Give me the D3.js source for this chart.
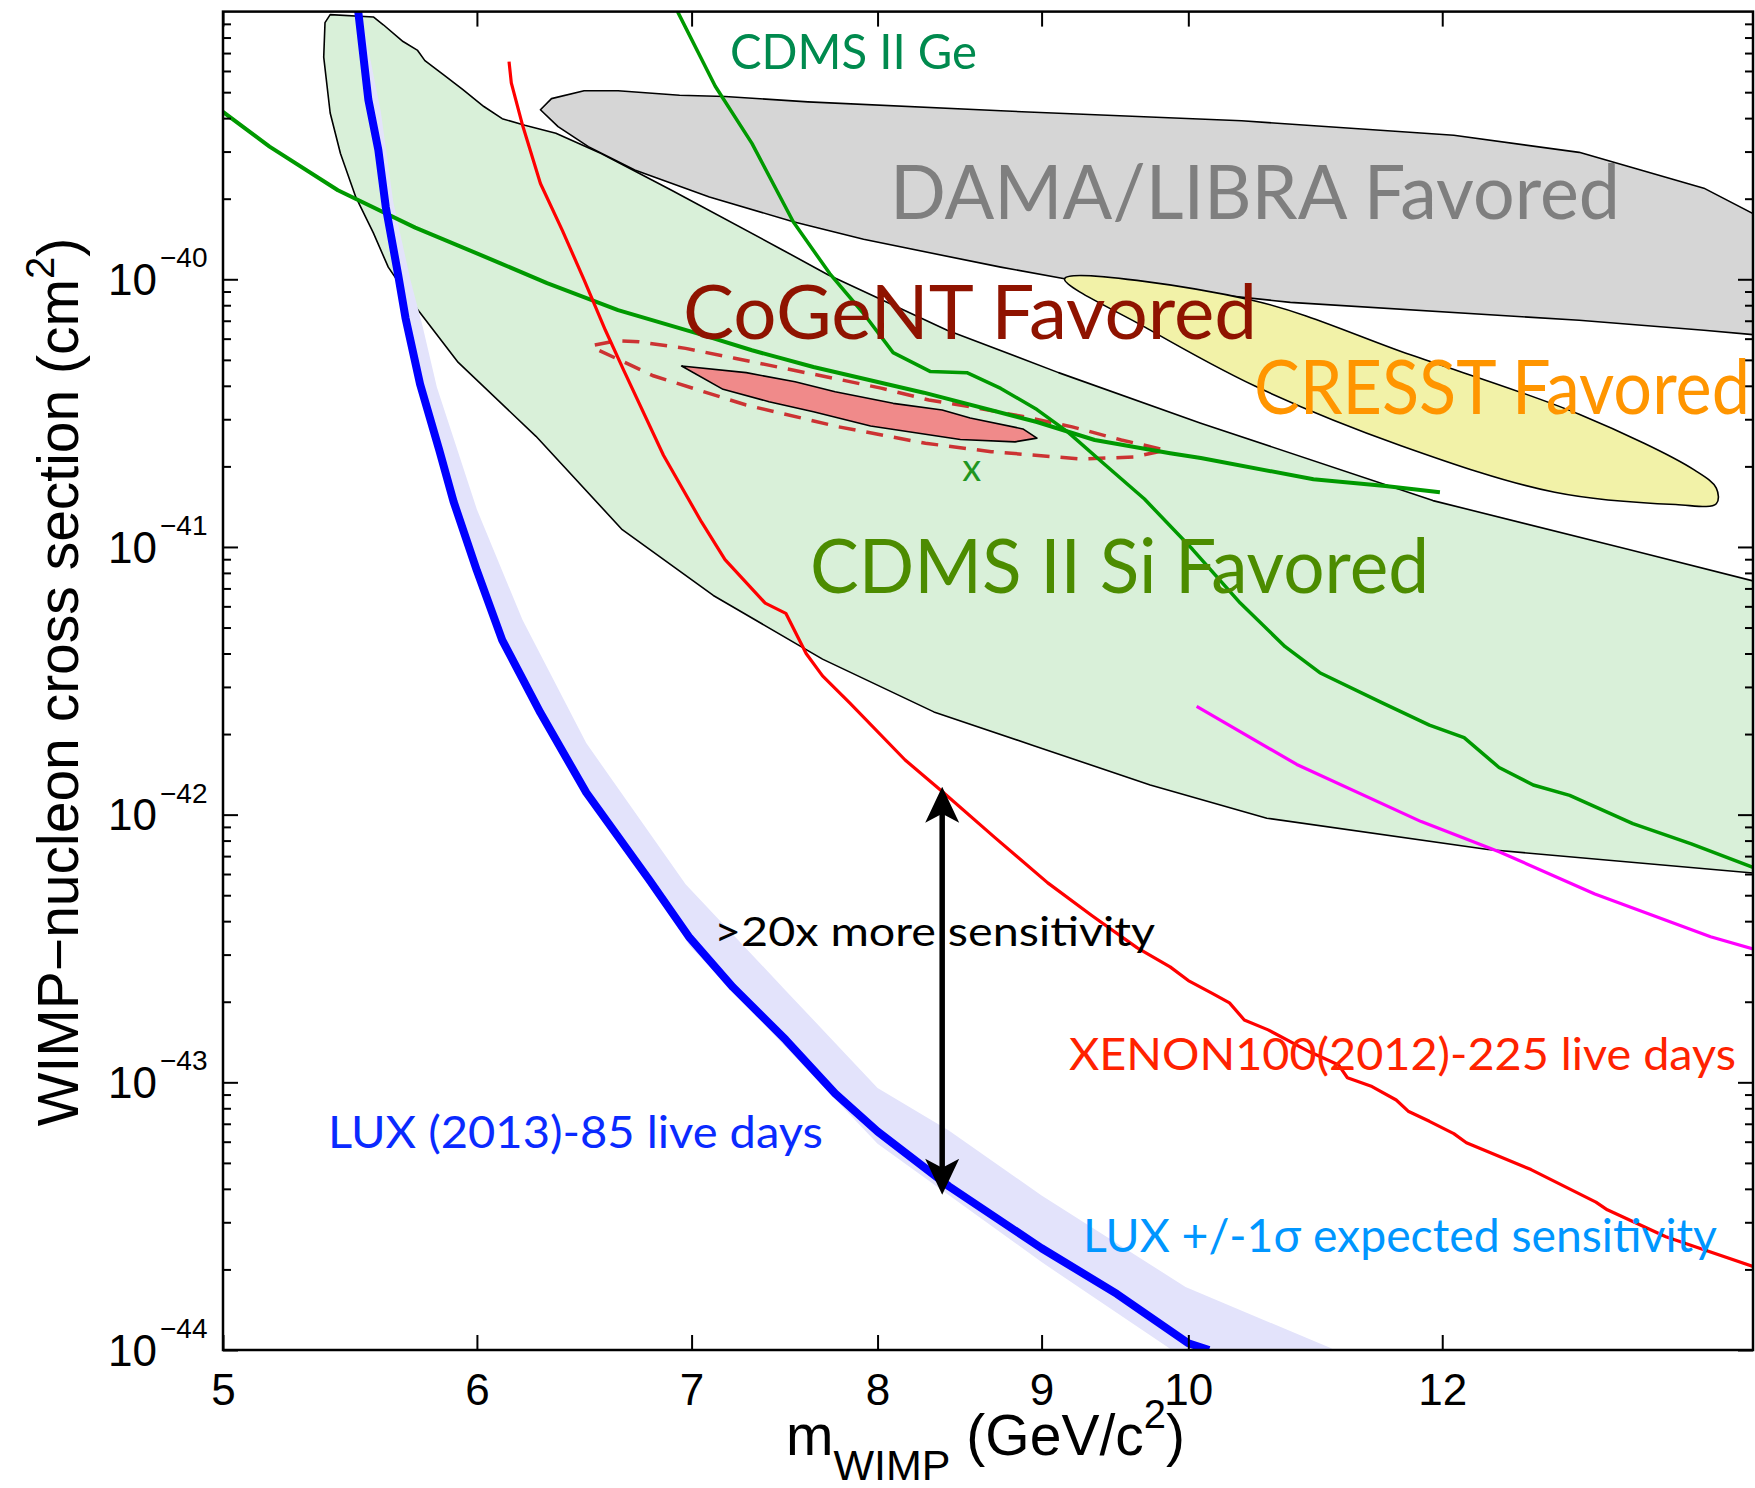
<!DOCTYPE html>
<html>
<head>
<meta charset="utf-8">
<script src="https://cdn.jsdelivr.net/npm/d3@7"></script>
<style>
    body { margin: 0; background: #ffffff; }
</style>
</head>
<body>
<svg id="chart" width="1755" height="1488"></svg>
<script>
/** Axis ticks **/
var massTicks = [5, 6, 7, 8, 9, 10, 12];
var sigmaExponents = [-44, -43, -42, -41, -40];

/** Favored regions, [mass GeV, cross section cm2] **/
var cdmsSiRegion = [[5.40,9.74e-40],[5.57,9.55e-40],[5.61,8.93e-40],[5.69,7.73e-40],[5.75,7.16e-40],[5.78,6.56e-40],
    [5.86,5.79e-40],[5.94,5.11e-40],[6.03,4.42e-40],[6.11,3.98e-40],[6.21,3.76e-40],[6.35,3.51e-40],[6.56,2.95e-40],
    [6.90,2.15e-40],[7.47,1.29e-40],[7.72,1.04e-40],[8.41,6.45e-41],[9.11,4.48e-41],[10.09,2.90e-41],[11.92,1.49e-41],
    [13.71,9.8e-42],[15.0,7.47e-42],[15.0,6.05e-43],[12.40,7.41e-43],[10.58,9.7e-43],[9.73,1.29e-42],[8.95,1.81e-42],
    [8.33,2.42e-42],[7.69,3.81e-42],[7.11,6.59e-42],[6.66,1.16e-41],[6.26,2.59e-41],[5.92,4.89e-41],[5.73,8.13e-41],
    [5.63,1.11e-40],[5.57,1.49e-40],[5.50,2.03e-40],[5.44,2.95e-40],[5.40,4.18e-40],[5.375,6.76e-40],[5.38,9.1e-40]];
var damaRegion = [[6.28,4.30e-40],[6.33,4.73e-40],[6.48,5.06e-40],[6.64,5.06e-40],[6.94,4.87e-40],[7.17,4.82e-40],
    [7.61,4.60e-40],[8.74,4.26e-40],[10.39,3.91e-40],[12.10,3.45e-40],[13.24,2.98e-40],[14.48,2.19e-40],[15.0,1.76e-40],
    [15.0,6.21e-41],[14.48,6.45e-41],[13.24,7.03e-41],[10.76,8.20e-41],[9.15,1.005e-40],[8.74,1.11e-40],[7.92,1.41e-40],
    [7.53,1.64e-40],[7.09,2.03e-40],[6.72,2.56e-40],[6.50,3.13e-40],[6.36,3.72e-40]];
var cresstRegion = [[9.15,1.005e-40],[10.46,8.37e-41],[11.73,5.22e-41],[13.24,3.13e-41],[14.38,1.94e-41],[14.61,1.66e-41],
    [14.61,1.45e-41],[14.19,1.44e-41],[13.01,1.60e-41],[11.65,2.39e-41],[10.49,3.99e-41],[9.69,6.64e-41]];
var cogentRegion = [[6.95,4.74e-41],[7.28,4.48e-41],[7.54,4.14e-41],[7.76,3.80e-41],[8.09,3.44e-41],[8.38,3.25e-41],
    [8.55,3.03e-41],[8.88,2.76e-41],[8.97,2.55e-41],[8.83,2.47e-41],[8.49,2.52e-41],[7.96,2.83e-41],[7.64,3.20e-41],
    [7.40,3.49e-41],[7.16,3.88e-41]];
var cogentDashed = [[6.53,5.68e-41],[6.63,5.89e-41],[6.74,5.84e-41],[6.97,5.52e-41],[7.22,5.07e-41],[7.48,4.65e-41],
    [7.75,4.27e-41],[8.02,3.92e-41],[8.30,3.54e-41],[8.60,3.30e-41],[8.88,3.07e-41],[9.20,2.81e-41],[9.53,2.51e-41],
    [9.84,2.30e-41],[9.62,2.17e-41],[9.26,2.13e-41],[8.68,2.27e-41],[8.28,2.44e-41],[7.78,2.81e-41],[7.28,3.39e-41],
    [6.81,4.36e-41],[6.53,5.52e-41]];
var cogentBestFit = [[8.56,1.94e-41]];

/** Exclusion limits **/
var luxLimit = [[5.51,1.0e-39],[5.55,4.69e-40],[5.59,3.04e-40],[5.62,1.86e-40],[5.67,1.04e-40],[5.70,7.18e-41],
    [5.76,4.06e-41],[5.84,2.30e-41],[5.90,1.48e-41],[6.00,8.15e-42],[6.11,4.49e-42],[6.28,2.40e-42],[6.49,1.21e-42],
    [6.79,5.71e-43],[6.99,3.47e-43],[7.21,2.27e-43],[7.49,1.44e-43],[7.76,9.08e-44],[8.00,6.55e-44],[8.42,4.09e-44],
    [9.00,2.40e-44],[9.50,1.62e-44],[10.0,1.06e-44],[10.15,1.0e-44]];
var luxBandUpper = [[5.52,1.0e-39],[5.60,4.22e-40],[5.65,1.95e-40],[5.72,9.95e-41],[5.77,6.71e-41],[5.83,3.95e-41],
    [6.00,1.38e-41],[6.20,5.33e-42],[6.49,1.85e-42],[6.97,5.50e-43],[7.49,2.20e-43],[8.00,9.53e-44],[8.42,6.61e-44],
    [9.00,3.78e-44],[9.98,1.72e-44],[11.09,1.01e-44]];
var luxBandLower = [[9.87,1.01e-44],[9.00,2.13e-44],[8.00,5.90e-44],[6.99,3.24e-43],[6.79,5.71e-43],[6.49,1.21e-42],
    [6.28,2.40e-42],[6.11,4.49e-42],[6.00,8.15e-42],[5.90,1.48e-41],[5.84,2.30e-41],[5.76,4.06e-41],[5.70,7.18e-41],
    [5.67,1.04e-40],[5.62,1.86e-40],[5.59,3.04e-40],[5.55,4.69e-40],[5.51,1.0e-39]];
var xenon100 = [[6.14,6.50e-40],[6.15,5.42e-40],[6.20,3.76e-40],[6.28,2.28e-40],[6.38,1.52e-40],[6.48,9.95e-41],
    [6.58,6.45e-41],[6.67,4.52e-41],[6.86,2.20e-41],[7.05,1.24e-41],[7.17,8.97e-42],[7.38,6.17e-42],[7.49,5.65e-42],
    [7.60,4.00e-42],[7.69,3.30e-42],[7.84,2.62e-42],[8.16,1.60e-42],[8.38,1.22e-42],[8.70,8.24e-43],[9.04,5.56e-43],
    [9.33,4.20e-43],[9.64,3.18e-43],[9.87,2.70e-43],[10.00,2.40e-43],[10.18,2.14e-43],[10.30,1.98e-43],[10.41,1.71e-43],
    [10.59,1.57e-43],[10.91,1.30e-43],[11.14,1.16e-43],[11.21,1.04e-43],[11.41,9.64e-44],[11.61,8.59e-44],[11.71,7.80e-44],
    [11.89,7.15e-44],[12.10,6.43e-44],[12.21,5.95e-44],[12.79,4.72e-44],[13.40,3.57e-44],[13.51,3.34e-44],[14.09,2.65e-44],
    [15.0,2.05e-44]];
var cdmsGe = [[6.93,1.0e-39],[7.12,5.26e-40],[7.31,3.22e-40],[7.53,1.64e-40],[7.73,1.05e-40],[7.92,7.45e-41],
    [8.09,5.32e-41],[8.31,4.52e-41],[8.53,4.48e-41],[8.74,3.91e-41],[8.97,3.26e-41],[9.17,2.69e-41],[9.41,2.05e-41],
    [9.69,1.51e-41],[10.03,9.8e-42],[10.38,6.17e-42],[10.72,4.24e-42],[10.99,3.39e-42],[11.49,2.62e-42],[11.89,2.16e-42],
    [12.19,1.94e-42],[12.50,1.50e-42],[12.81,1.29e-42],[13.15,1.18e-42],[13.76,9.25e-43],[14.35,7.78e-43],[15.0,6.35e-43]];
var greenLimit = [[5.0,4.22e-40],[5.17,3.13e-40],[5.43,2.15e-40],[5.74,1.56e-40],[6.10,1.15e-40],[6.31,9.67e-41],
    [6.64,7.67e-41],[7.05,6.21e-41],[7.31,5.43e-41],[7.64,4.70e-41],[8.27,3.77e-41],[8.97,2.93e-41],[9.35,2.51e-41],
    [9.87,2.24e-41],[10.09,2.15e-41],[10.94,1.79e-41],[11.52,1.69e-41],[11.98,1.60e-41]];
var magentaLimit = [[10.06,2.54e-42],[10.81,1.54e-42],[11.82,9.42e-43],[12.50,7.27e-43],[13.39,5.05e-43],
    [14.55,3.50e-43],[15.0,3.15e-43]];

/** Sensitivity arrow: mass, low and high cross section **/
var arrowMass = 8.38;
var arrowSigma = [3.8e-44, 1.27e-42];

var svg = d3.select("#chart");
var margin = {top: 11.6, left: 223};
var width = 1530, height = 1338.4;

var x = d3.scaleLog().domain([5, 15]).range([0, width]);
var y = d3.scaleLog().domain([1e-44, 1e-39]).range([height, 0]);

var g = svg.append("g").attr("transform", "translate(" + margin.left + "," + margin.top + ")");

g.append("defs").append("clipPath").attr("id", "plotClip")
    .append("rect").attr("width", width).attr("height", height);

var plot = g.append("g").attr("clip-path", "url(#plotClip)");

var line = d3.line()
    .x(function (d) { return x(d[0]); })
    .y(function (d) { return y(d[1]); });

/** smooth closed outline for the CRESST ellipse **/
var smoothClosed = d3.line()
    .x(function (d) { return x(d[0]); })
    .y(function (d) { return y(d[1]); })
    .curve(d3.curveCatmullRomClosed.alpha(0.5));

/** Filled regions **/
function drawRegion(pathD, fill) {
    plot.append("path")
        .attr("d", pathD)
        .attr("fill", fill)
        .attr("stroke", "black")
        .attr("stroke-width", 1.6)
        .attr("stroke-linejoin", "round");
}
drawRegion(line(cdmsSiRegion) + "Z", "#d9f0d9");
drawRegion(line(damaRegion) + "Z", "#d6d6d6");
drawRegion(smoothClosed(cresstRegion), "#f2f2a8");

/** LUX +/- 1 sigma band **/
plot.append("path")
    .attr("d", line(luxBandUpper.concat(luxBandLower)) + "Z")
    .attr("fill", "#e3e3fb")
    .attr("stroke", "none");

drawRegion(line(cogentRegion) + "Z", "#f08a8a");

plot.append("path")
    .attr("d", line(cogentDashed))
    .attr("fill", "none")
    .attr("stroke", "#cc3333")
    .attr("stroke-width", 3.5)
    .attr("stroke-dasharray", "17,11");

/** Text labels **/
function addLabel(txt, lx, ly, size, len, color) {
    svg.append("text")
        .attr("x", lx).attr("y", ly)
        .attr("font-family", "Lato, 'Open Sans', sans-serif")
        .attr("font-size", size)
        .attr("fill", color)
        .attr("textLength", len)
        .attr("lengthAdjust", "spacingAndGlyphs")
        .text(txt);
}
addLabel("CDMS II Ge", 730, 69, 49, 247, "#008a4e");
addLabel("DAMA/LIBRA Favored", 890, 219, 76, 730, "#7f7f7f");
addLabel("CoGeNT Favored", 683, 339, 75, 574, "#8f1300");
addLabel("CRESST Favored", 1254, 414, 75, 496, "#ff9500");
addLabel("CDMS II Si Favored", 810, 593, 75, 619, "#4c8c00");
addLabel(">20x more sensitivity", 714, 946, 40, 441, "#000000");
addLabel("XENON100(2012)-225 live days", 1069, 1070, 45, 667, "#ff2200");
addLabel("LUX (2013)-85 live days", 328, 1148, 44, 495, "#0a2aff");
addLabel("LUX +/-1\u03c3 expected sensitivity", 1083, 1252, 46, 634, "#0096ff");

plot.selectAll(".bestfit")
    .data(cogentBestFit)
    .enter().append("text")
    .attr("class", "bestfit")
    .attr("x", function (d) { return x(d[0]); })
    .attr("y", function (d) { return y(d[1]); })
    .attr("dy", "0.3em")
    .attr("text-anchor", "middle")
    .attr("font-family", "Lato, sans-serif")
    .attr("font-size", 38)
    .attr("fill", "#1f961f")
    .text("x");

/** Limit curves **/
function drawLine(points, color, w) {
    plot.append("path")
        .attr("d", line(points))
        .attr("fill", "none")
        .attr("stroke", color)
        .attr("stroke-width", w)
        .attr("stroke-linejoin", "round");
}
drawLine(greenLimit, "#009900", 4);
drawLine(cdmsGe, "#009900", 3.5);
drawLine(xenon100, "#ff0000", 3.2);
drawLine(magentaLimit, "#ff00ff", 3.2);
drawLine(luxLimit, "#0000ff", 8);

/** Double headed arrow **/
var ax = x(arrowMass), yLow = y(arrowSigma[0]), yHigh = y(arrowSigma[1]);
plot.append("line")
    .attr("x1", ax).attr("x2", ax)
    .attr("y1", yHigh + 20).attr("y2", yLow - 20)
    .attr("stroke", "black").attr("stroke-width", 5.5);
plot.append("path")
    .attr("d", "M" + ax + "," + yHigh + " L" + (ax - 17) + "," + (yHigh + 36) + " L" + ax + "," + (yHigh + 27) +
        " L" + (ax + 17) + "," + (yHigh + 36) + "Z")
    .attr("fill", "black");
plot.append("path")
    .attr("d", "M" + ax + "," + yLow + " L" + (ax - 17) + "," + (yLow - 36) + " L" + ax + "," + (yLow - 27) +
        " L" + (ax + 17) + "," + (yLow - 36) + "Z")
    .attr("fill", "black");

/** Axes **/
var majorY = sigmaExponents.map(function (e) { return Math.pow(10, e); });
var minorY = [];
sigmaExponents.forEach(function (e) {
    for (var m = 2; m <= 9; m++) { minorY.push(m * Math.pow(10, e)); }
});

function styleAxis(sel) {
    sel.select(".domain").remove();
    sel.selectAll("line").attr("stroke", "black").attr("stroke-width", 2);
}

g.append("g").call(d3.axisLeft(y).tickValues(majorY).tickSize(-15).tickFormat("")).call(styleAxis);
g.append("g").call(d3.axisLeft(y).tickValues(minorY).tickSize(-8).tickFormat("")).call(styleAxis);
g.append("g").attr("transform", "translate(" + width + ",0)")
    .call(d3.axisRight(y).tickValues(majorY).tickSize(-15).tickFormat("")).call(styleAxis);
g.append("g").attr("transform", "translate(" + width + ",0)")
    .call(d3.axisRight(y).tickValues(minorY).tickSize(-8).tickFormat("")).call(styleAxis);
g.append("g").call(d3.axisTop(x).tickValues(massTicks).tickSize(-15).tickFormat("")).call(styleAxis);

var xAxis = g.append("g").attr("transform", "translate(0," + height + ")")
    .call(d3.axisBottom(x).tickValues(massTicks).tickSize(-15).tickPadding(24).tickFormat(d3.format("d")))
    .call(styleAxis);
xAxis.selectAll("text")
    .attr("font-size", 44)
    .attr("font-family", "'Liberation Sans', Arial, sans-serif")
    .attr("fill", "black");

/** Frame **/
g.append("rect")
    .attr("width", width).attr("height", height)
    .attr("fill", "none").attr("stroke", "black").attr("stroke-width", 2.5);

/** Y tick labels 10^n **/
var yLabels = g.selectAll(".ylab").data(sigmaExponents).enter().append("g").attr("class", "ylab");
yLabels.append("text")
    .attr("x", -66)
    .attr("y", function (d) { return y(Math.pow(10, d)); })
    .attr("dy", "0.36em")
    .attr("text-anchor", "end")
    .attr("font-family", "'Liberation Sans', Arial, sans-serif")
    .attr("font-size", 44)
    .text("10");
yLabels.append("text")
    .attr("x", -63)
    .attr("y", function (d) { return y(Math.pow(10, d)) - 12; })
    .attr("font-family", "'Liberation Sans', Arial, sans-serif")
    .attr("font-size", 28)
    .text(function (d) { return "\u2212" + Math.abs(d); });

/** Axis titles **/
var yTitle = svg.append("text")
    .attr("transform", "translate(78,682) rotate(-90)")
    .attr("text-anchor", "middle")
    .attr("font-family", "'Liberation Sans', Arial, sans-serif")
    .attr("font-size", 57);
yTitle.append("tspan").text("WIMP\u2212nucleon cross section (cm");
yTitle.append("tspan").attr("font-size", 40).attr("dy", -24).text("2");
yTitle.append("tspan").attr("dy", 24).text(")");

var xTitle = svg.append("text")
    .attr("x", 786).attr("y", 1455)
    .attr("font-family", "'Liberation Sans', Arial, sans-serif")
    .attr("font-size", 57);
xTitle.append("tspan").text("m");
xTitle.append("tspan").attr("font-size", 43).attr("dy", 25).text("WIMP");
xTitle.append("tspan").attr("dy", -25).text(" (GeV/c");
xTitle.append("tspan").attr("font-size", 40).attr("dy", -27).text("2");
xTitle.append("tspan").attr("dy", 27).text(")");
</script>
</body>
</html>
